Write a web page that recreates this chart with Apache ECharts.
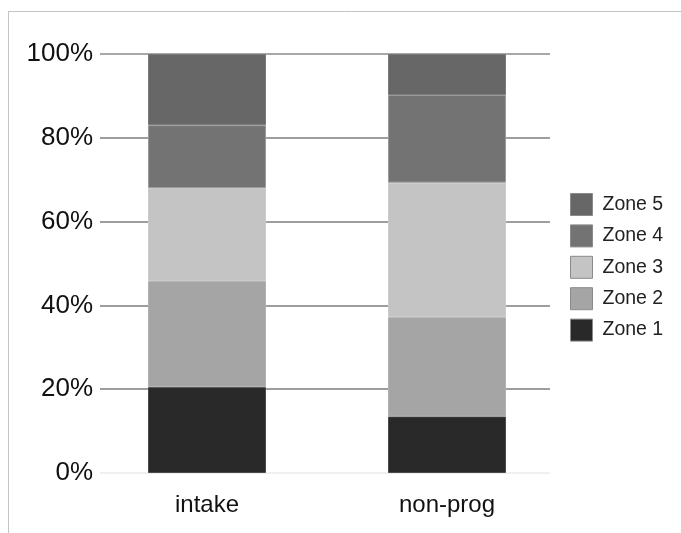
<!DOCTYPE html>
<html>
<head>
<meta charset="utf-8">
<script src="https://cdn.jsdelivr.net/npm/echarts@6/dist/echarts.min.js"></script>
<style>
html,body{margin:0;padding:0;background:#fff;}
#chart{width:681px;height:533px;}
</style>
</head>
<body>
<div id="chart"></div>
<script>
const categories = ['intake', 'non-prog'];
const zoneNames = ['Zone 1', 'Zone 2', 'Zone 3', 'Zone 4', 'Zone 5'];
const zone1 = [20.5, 13.5];
const zone2 = [25.3, 23.7];
const zone3 = [22.2, 32.1];
const zone4 = [15.0, 20.9];
const zone5 = [17.0, 9.8];
const yTicks = [0, 20, 40, 60, 80, 100];

const zoneValues = [zone1, zone2, zone3, zone4, zone5];
const zoneColors = ['#292929', '#a5a5a5', '#c4c4c4', '#737373', '#676767'];
const zoneBorders = ['#4a4a4a', '#b0b0b0', '#cacaca', '#9a9a9a', '#7a7a7a'];

const chart = echarts.init(document.getElementById('chart'));
const font = 'Liberation Sans, Arial, Helvetica, sans-serif';

chart.setOption({
  animation: false,
  backgroundColor: '#fff',
  graphic: [
    { type: 'line', shape: { x1: 8, y1: 11.5, x2: 681, y2: 11.5 }, style: { stroke: '#c4c4c4', lineWidth: 1 } },
    { type: 'line', shape: { x1: 8.5, y1: 11, x2: 8.5, y2: 533 }, style: { stroke: '#c4c4c4', lineWidth: 1 } }
  ],
  grid: [
    { left: 100, width: 450, top: 54, height: 419 },
    { left: 87, width: 480, top: 54, height: 419 }
  ],
  legend: {
    orient: 'vertical',
    left: 570,
    top: 193,
    padding: 0,
    itemWidth: 22,
    itemHeight: 22,
    itemGap: 8.4,
    icon: 'rect',
    data: zoneNames.slice().reverse(),
    textStyle: { fontFamily: font, fontSize: 19.5, color: '#222', padding: [0, 0, 0, 5] },
    itemStyle: { borderColor: '#8a8a8a', borderWidth: 1 }
  },
  xAxis: [
    { type: 'value', gridIndex: 0, show: false, min: 0, max: 1 },
    {
      type: 'category', gridIndex: 1, data: categories,
      axisLine: { show: false }, axisTick: { show: false },
      axisLabel: { fontFamily: font, fontSize: 24, color: '#111', margin: 20 }
    }
  ],
  yAxis: [
    {
      type: 'value', gridIndex: 0, min: 0, max: 100, interval: 20,
      axisLine: { show: false }, axisTick: { show: false },
      axisLabel: { formatter: '{value}%', fontFamily: font, fontSize: 26, color: '#111', margin: 7 },
      splitLine: { lineStyle: { width: 2, color: ['#f0f0f0', '#9e9e9e', '#9e9e9e', '#9e9e9e', '#9e9e9e', '#a8a8a8'] } }
    },
    { type: 'value', gridIndex: 1, min: 0, max: 100, show: false, splitLine: { show: false } }
  ],
  series: zoneNames.map((name, i) => ({
    name: name,
    type: 'bar',
    stack: 'total',
    xAxisIndex: 1,
    yAxisIndex: 1,
    barWidth: 118,
    data: zoneValues[i],
    itemStyle: { color: zoneColors[i], borderColor: zoneBorders[i], borderWidth: 1 }
  }))
});
</script>
</body>
</html>
